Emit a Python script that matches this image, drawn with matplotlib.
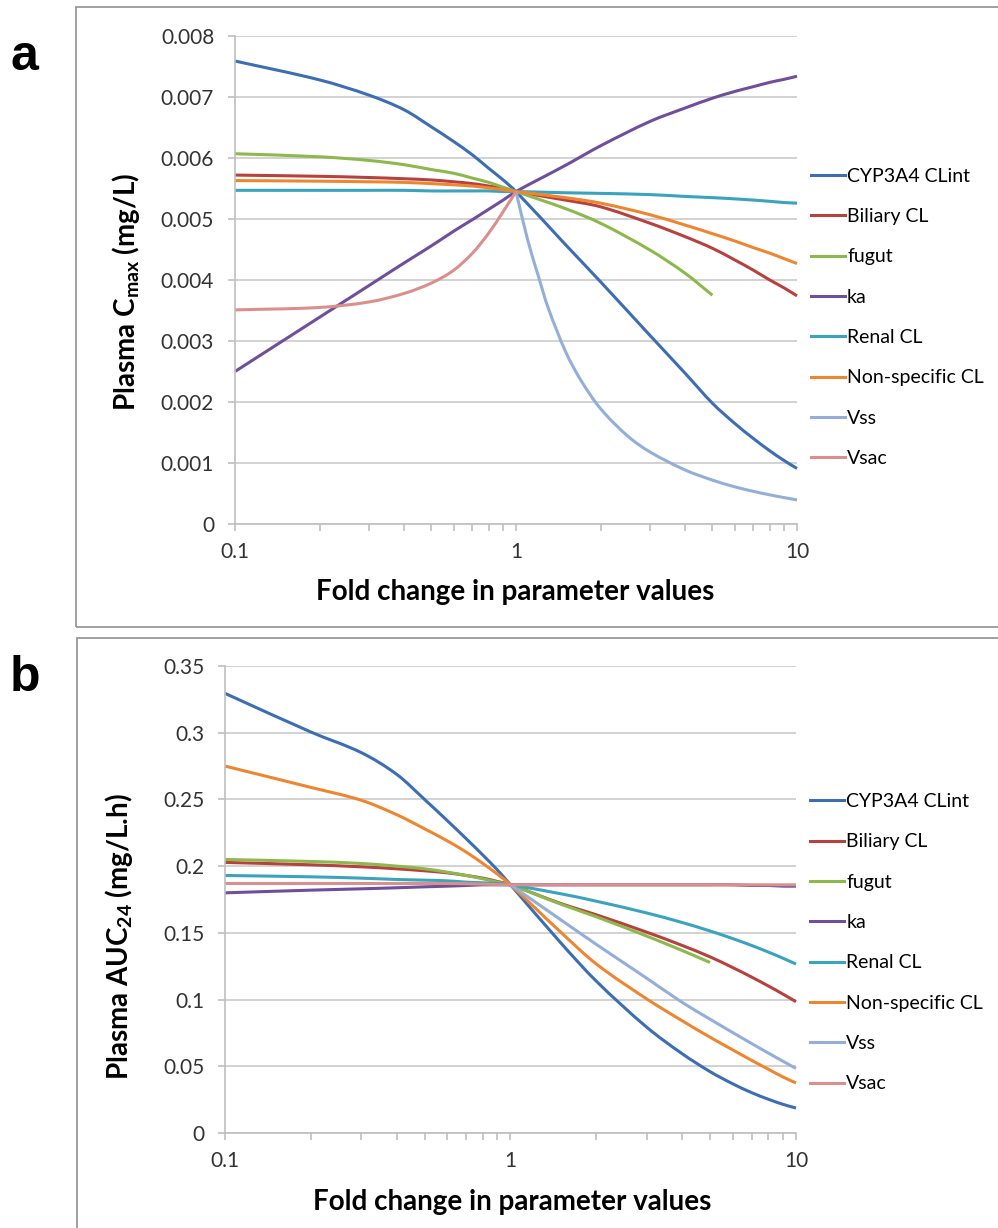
import matplotlib
matplotlib.use("Agg")
import matplotlib.pyplot as plt
import numpy as np
from matplotlib.lines import Line2D
from matplotlib.patches import PathPatch, Rectangle
from matplotlib.path import Path
from matplotlib.ticker import NullFormatter, FixedLocator

plt.rcParams["font.family"] = ["Lato", "DejaVu Sans"]
plt.rcParams["mathtext.fontset"] = "custom"
plt.rcParams["mathtext.rm"] = "Lato:bold"
plt.rcParams["mathtext.default"] = "rm"

# ---- data ----
SERIES = ["CYP3A4 CLint", "Biliary CL", "fugut", "ka", "Renal CL",
          "Non-specific CL", "Vss", "Vsac"]
COLORS = ["#3D6DB3", "#B7413E", "#8CB84C", "#6F4E9B", "#3AA3BE",
          "#EE8630", "#93AFD9", "#DA8F8D"]

X_MAIN = [0.1, 0.2, 0.3, 0.4, 0.5, 0.6, 0.7, 0.8, 0.9, 1,
          1.5, 2, 3, 4, 5, 6, 7, 8, 9, 10]
X_FUGUT = [0.1, 0.2, 0.3, 0.4, 0.5, 0.6, 0.7, 0.8, 0.9, 1, 1.5, 2, 3, 4, 5]
X_VSS_A = [1, 1.1, 1.2, 1.3, 1.5, 1.7, 2, 2.5, 3, 4, 5, 6, 7, 8, 9, 10]
X_VSS_B = [1, 1.5, 2, 3, 4, 5, 6, 7, 8, 9, 10]
X_VSAC_A = [0.1, 0.2, 0.3, 0.4, 0.5, 0.6, 0.7, 0.8, 0.9, 1]

# panel a: plasma Cmax (mg/L x 1e-3)
CMAX_CYP = [7.59, 7.28, 7.03, 6.79, 6.51, 6.27, 6.05, 5.83, 5.64, 5.45,
            4.58, 3.97, 3.09, 2.47, 1.98, 1.65, 1.40, 1.20, 1.04, 0.91]
CMAX_BIL = [5.72, 5.70, 5.68, 5.66, 5.64, 5.61, 5.58, 5.54, 5.50, 5.45,
            5.31, 5.20, 4.93, 4.71, 4.52, 4.33, 4.16, 4.00, 3.87, 3.74]
CMAX_FUG = [6.07, 6.02, 5.96, 5.89, 5.81, 5.75, 5.67, 5.60, 5.52, 5.45,
            5.17, 4.93, 4.49, 4.11, 3.75]
CMAX_KA = [2.50, 3.39, 3.91, 4.28, 4.56, 4.80, 4.99, 5.16, 5.31, 5.45,
           5.88, 6.20, 6.60, 6.82, 6.98, 7.09, 7.17, 7.24, 7.29, 7.34]
CMAX_REN = [5.47, 5.47, 5.47, 5.47, 5.46, 5.46, 5.46, 5.46, 5.45, 5.45,
            5.43, 5.42, 5.40, 5.37, 5.35, 5.33, 5.31, 5.29, 5.27, 5.26]
CMAX_NSP = [5.63, 5.62, 5.61, 5.60, 5.58, 5.56, 5.54, 5.51, 5.48, 5.45,
            5.35, 5.26, 5.07, 4.90, 4.76, 4.64, 4.53, 4.44, 4.35, 4.27]
CMAX_VSS = [5.45, 4.66, 4.07, 3.55, 2.83, 2.36, 1.89, 1.44, 1.18, 0.885,
            0.72, 0.61, 0.535, 0.478, 0.433, 0.395]
CMAX_VSAC = [3.51, 3.55, 3.64, 3.78, 3.95, 4.16, 4.44, 4.77, 5.12, 5.45]

# panel b: plasma AUC24 (mg/L.h)
AUC_CYP = [0.3295, 0.3005, 0.2851, 0.2687, 0.250, 0.2342, 0.2205, 0.2083, 0.1971, 0.186,
           0.1425, 0.1137, 0.0793, 0.0593, 0.046, 0.0369, 0.0302, 0.0253, 0.0215, 0.0187]
AUC_BIL = [0.2028, 0.201, 0.1995, 0.198, 0.1965, 0.195, 0.193, 0.191, 0.1885, 0.186,
           0.172, 0.1635, 0.1505, 0.1405, 0.132, 0.124, 0.1168, 0.1102, 0.1041, 0.0984]
AUC_FUG = [0.205, 0.2035, 0.202, 0.200, 0.198, 0.1955, 0.193, 0.1905, 0.188, 0.186,
           0.1715, 0.162, 0.1476, 0.1367, 0.1278]
AUC_KA = [0.180, 0.182, 0.183, 0.1838, 0.1845, 0.185, 0.1855, 0.186, 0.186, 0.186,
          0.186, 0.186, 0.186, 0.186, 0.186, 0.186, 0.1855, 0.1855, 0.185, 0.185]
AUC_REN = [0.193, 0.192, 0.191, 0.190, 0.1895, 0.189, 0.188, 0.1875, 0.187, 0.186,
           0.1793, 0.1737, 0.1649, 0.1577, 0.1514, 0.1457, 0.1405, 0.1356, 0.131, 0.1266]
AUC_NSP = [0.275, 0.259, 0.2494, 0.2385, 0.228, 0.219, 0.2105, 0.202, 0.194, 0.186,
           0.1505, 0.1266, 0.1005, 0.084, 0.0718, 0.0623, 0.0544, 0.0478, 0.042, 0.0375]
AUC_VSS = [0.186, 0.1598, 0.1413, 0.116, 0.0978, 0.0853, 0.0753, 0.067, 0.0599,
           0.0538, 0.0484]
AUC_VSAC = [0.187, 0.187, 0.187, 0.187, 0.187, 0.187, 0.1868, 0.1865, 0.1862, 0.186,
            0.186, 0.186, 0.186, 0.186, 0.186, 0.186, 0.186, 0.186, 0.186, 0.186]

X_TICKS = [0.1, 1, 10]
X_TICK_LABELS = ["0.1", "1", "10"]
CMAX_TICKS = [0, 0.001, 0.002, 0.003, 0.004, 0.005, 0.006, 0.007, 0.008]
CMAX_TICK_LABELS = ["0", "0.001", "0.002", "0.003", "0.004", "0.005",
                    "0.006", "0.007", "0.008"]
AUC_TICKS = [0, 0.05, 0.1, 0.15, 0.2, 0.25, 0.3, 0.35]
AUC_TICK_LABELS = ["0", "0.05", "0.1", "0.15", "0.2", "0.25", "0.3", "0.35"]

W, H = 998, 1228
fig = plt.figure(figsize=(W / 100, H / 100), dpi=100, facecolor="white")


def px_axes(left, top, right, bottom):
    return fig.add_axes([left / W, 1 - bottom / H, (right - left) / W,
                         (bottom - top) / H])


def smooth_line(ax, xs, ys, color):
    """Draw a series as a smoothed (Excel-style) cubic curve through its points."""
    u = np.log10(np.asarray(xs, float))
    v = np.asarray(ys, float)
    n = len(u)
    m = np.empty(n)
    m[0] = (v[1] - v[0]) / (u[1] - u[0])
    m[-1] = (v[-1] - v[-2]) / (u[-1] - u[-2])
    for i in range(1, n - 1):
        m[i] = (v[i + 1] - v[i - 1]) / (u[i + 1] - u[i - 1])
    verts = [(u[0], v[0])]
    codes = [Path.MOVETO]
    for i in range(n - 1):
        h = u[i + 1] - u[i]
        verts += [(u[i] + h / 3, v[i] + m[i] * h / 3),
                  (u[i + 1] - h / 3, v[i + 1] - m[i + 1] * h / 3),
                  (u[i + 1], v[i + 1])]
        codes += [Path.CURVE4] * 3
    verts = [(10 ** a, b) for a, b in verts]
    ax.add_patch(PathPatch(Path(verts, codes), fill=False, edgecolor=color,
                           linewidth=2.2, joinstyle="round", capstyle="butt",
                           clip_on=False))


def style_axes(ax, yticks, ylabels, ylim):
    ax.set_xscale("log")
    ax.set_xlim(0.1, 10)
    ax.set_ylim(*ylim)
    ax.xaxis.set_major_locator(FixedLocator(X_TICKS))
    ax.set_xticklabels(X_TICK_LABELS)
    ax.xaxis.set_minor_locator(FixedLocator(
        [m * d for d in (0.1, 1) for m in range(2, 10)]))
    ax.xaxis.set_minor_formatter(NullFormatter())
    ax.set_yticks(yticks)
    ax.set_yticklabels(ylabels)
    for s in ("top", "right"):
        ax.spines[s].set_visible(False)
    for s in ("left", "bottom"):
        ax.spines[s].set_color("#BFBFBF")
        ax.spines[s].set_linewidth(1.2)
    ax.grid(axis="y", color="#CFCFCF", linewidth=1.3)
    ax.set_axisbelow(True)
    ax.tick_params(axis="y", which="major", length=5, width=1.2,
                   color="#BFBFBF", pad=10, labelsize=15, labelcolor="#333333")
    ax.tick_params(axis="x", which="both", length=5, width=1.2,
                   color="#BFBFBF", pad=8, labelsize=15, labelcolor="#333333")


def add_legend(ax, anchor_y):
    handles = [Line2D([], [], color=c, lw=2.2) for c in COLORS]
    ax.legend(handles, SERIES, loc="upper left",
              bbox_to_anchor=(1.025, anchor_y), frameon=False, fontsize=14,
              handlelength=1.75, handletextpad=0.1, labelspacing=1.2,
              borderpad=0, borderaxespad=0)


# panel borders
fig.patches.append(Rectangle((76 / W, 1 - 627 / H), 940 / W, 620 / H,
                             transform=fig.transFigure, fill=False,
                             edgecolor="#9A9A9A", linewidth=1.3))
fig.patches.append(Rectangle((77 / W, -0.05), 940 / W, (1 - 638 / H) + 0.05,
                             transform=fig.transFigure, fill=False,
                             edgecolor="#9A9A9A", linewidth=1.3))

# ---- panel a ----
axa = px_axes(235, 36, 797, 524)
style_axes(axa, CMAX_TICKS, CMAX_TICK_LABELS, (0, 0.008))
a_data = [(X_MAIN, CMAX_CYP), (X_MAIN, CMAX_BIL), (X_FUGUT, CMAX_FUG),
          (X_MAIN, CMAX_KA), (X_MAIN, CMAX_REN), (X_MAIN, CMAX_NSP),
          (X_VSS_A, CMAX_VSS), (X_VSAC_A, CMAX_VSAC)]
for (xs, ys), c in zip(a_data, COLORS):
    smooth_line(axa, xs, [v * 1e-3 for v in ys], c)
axa.set_xlabel("Fold change in parameter values", fontsize=20,
               fontweight="bold")
axa.xaxis.set_label_coords(0.498, -0.112)
axa.set_ylabel("Plasma C$_{max}$ (mg/L)", fontsize=20, fontweight="bold")
axa.yaxis.set_label_coords(-0.165, 0.475)
add_legend(axa, 0.73)

# ---- panel b ----
axb = px_axes(225, 666, 796, 1133)
style_axes(axb, AUC_TICKS, AUC_TICK_LABELS, (0, 0.35))
b_data = [(X_MAIN, AUC_CYP), (X_MAIN, AUC_BIL), (X_FUGUT, AUC_FUG),
          (X_MAIN, AUC_KA), (X_MAIN, AUC_REN), (X_MAIN, AUC_NSP),
          (X_VSS_B, AUC_VSS), (X_MAIN, AUC_VSAC)]
for (xs, ys), c in zip(b_data, COLORS):
    smooth_line(axb, xs, ys, c)
axb.set_xlabel("Fold change in parameter values", fontsize=20,
               fontweight="bold")
axb.xaxis.set_label_coords(0.503, -0.12)
axb.set_ylabel("Plasma AUC$_{24}$ (mg/L.h)", fontsize=20, fontweight="bold")
axb.yaxis.set_label_coords(-0.158, 0.42)
add_legend(axb, 0.728)

# panel letters
fig.text(10 / W, 1 - 70 / H, "a", fontsize=36, fontweight="bold",
         family="Liberation Sans", va="baseline")
fig.text(10 / W, 1 - 691 / H, "b", fontsize=36, fontweight="bold",
         family="Liberation Sans", va="baseline")

fig.savefig("out.png", dpi=100, facecolor="white")
